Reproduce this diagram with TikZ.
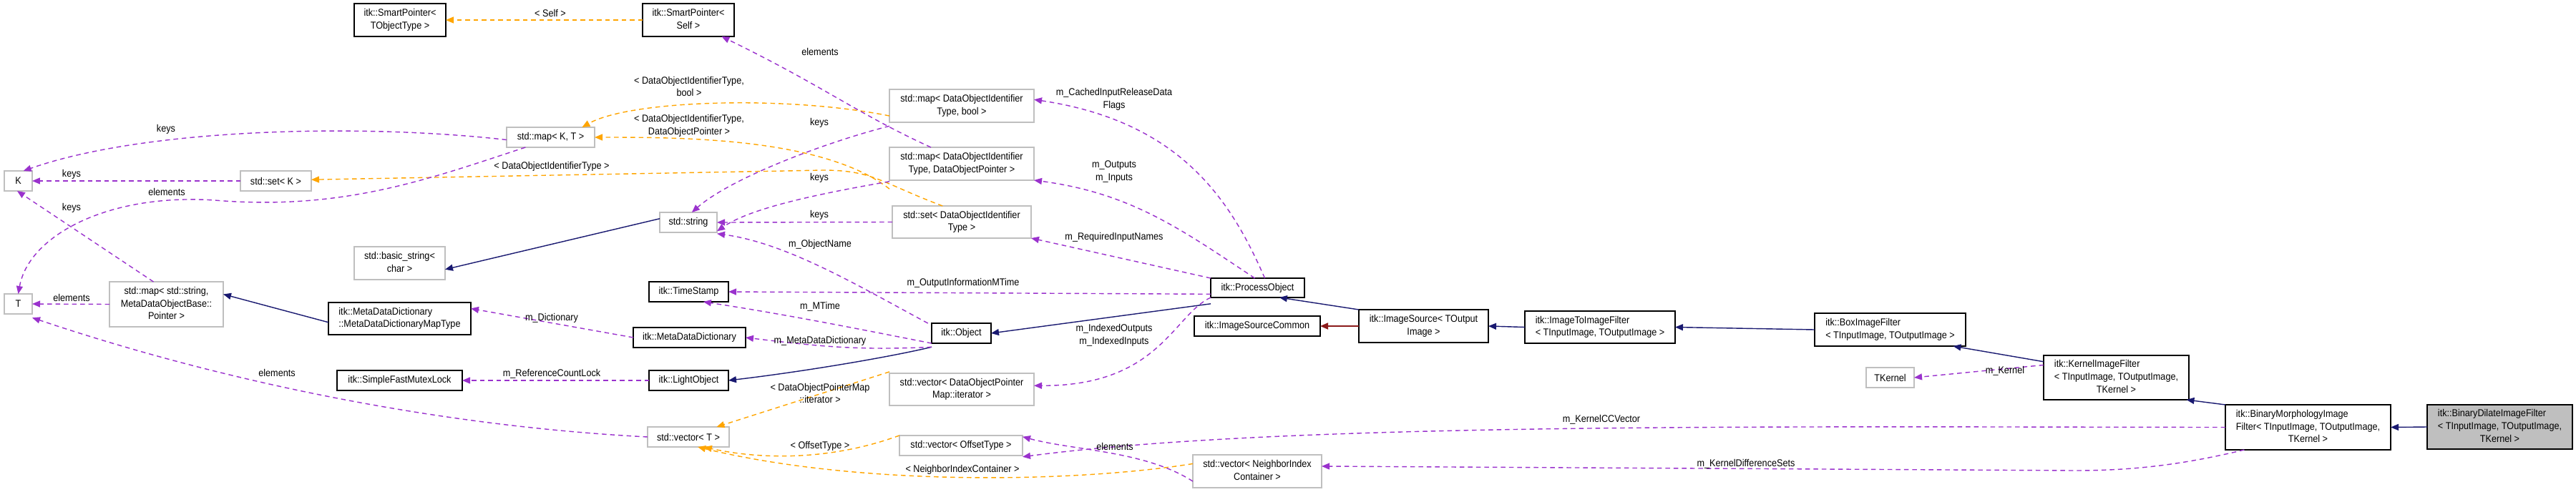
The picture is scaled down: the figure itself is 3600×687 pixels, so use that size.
\documentclass[tikz,border=0pt]{standalone}
\usepackage{fontspec}
\setmainfont{Liberation Sans}[FakeStretch=0.9]
\usetikzlibrary{arrows.meta}
\definecolor{navy}{HTML}{191970}
\definecolor{purp}{HTML}{9A32CD}
\definecolor{orng}{HTML}{FFA500}
\definecolor{dred}{HTML}{8B1A1A}
\definecolor{gbord}{HTML}{BFBFBF}
\newcommand\bx[7]{\node[#6, minimum width={(#4-#2)*0.02cm}, minimum height={(#5-#3)*0.02cm}] (#1) at ({(#2+#4)/2},{(#3+#5)/2}) {#7};}
\newcommand\lt[1]{\begin{tabular}{@{}l@{}}#1\end{tabular}}
\newcommand\ct[1]{\begin{tabular}{@{}c@{}}#1\end{tabular}}
\begin{document}
\begin{tikzpicture}[x=0.02cm,y=-0.02cm,
  font=\fontsize{8}{10}\selectfont,
  every node/.style={inner sep=0pt, outer sep=0pt},
  gb/.style={draw=gbord, line width=0.8pt, fill=white, rectangle},
  bb/.style={draw=black, line width=0.9pt, fill=white, rectangle},
  hb/.style={draw=black, line width=0.9pt, fill=gbord, rectangle},
  lbl/.style={font=\fontsize{8}{10}\selectfont, align=center},
  tip/.style={-{Triangle[length=0.22cm,width=0.18cm]}},
  inh/.style={tip, draw=navy, line width=0.8pt},
  red/.style={tip, draw=dred, line width=1pt},
  use/.style={tip, draw=purp, line width=0.8pt, dash pattern=on 0.13cm off 0.1cm},
  tpl/.style={tip, draw=orng, line width=0.8pt, dash pattern=on 0.13cm off 0.1cm}]
\useasboundingbox (0,0) rectangle (3600,687);
% boxes
\bx{spt}{495}{5}{623}{51}{bb}{\ct{itk::SmartPointer<\\TObjectType >}}
\bx{sps}{898}{5}{1026}{51}{bb}{\ct{itk::SmartPointer<\\Self >}}
\bx{mapkt}{708}{178}{831}{206}{gb}{std::map< K, T >}
\bx{K}{6}{239}{45}{267}{gb}{K}
\bx{setk}{336}{239}{435}{267}{gb}{std::set< K >}
\bx{bstr}{495}{345}{622}{391}{gb}{\ct{std::basic\_string<\\char >}}
\bx{T}{6}{411}{45}{439}{gb}{T}
\bx{mapstr}{153}{394}{312}{457}{gb}{\ct{std::map< std::string,\\MetaDataObjectBase::\\Pointer >}}
\bx{mdmt}{459}{423}{658}{468}{bb}{\lt{itk::MetaDataDictionary\\::MetaDataDictionaryMapType}}
\bx{sfml}{471}{518}{646}{546}{bb}{itk::SimpleFastMutexLock}
\bx{mapbool}{1243}{125}{1445}{171}{gb}{\ct{std::map< DataObjectIdentifier\\Type, bool >}}
\bx{mapdop}{1243}{206}{1445}{252}{gb}{\ct{std::map< DataObjectIdentifier\\Type, DataObjectPointer >}}
\bx{setdoit}{1247}{288}{1441}{333}{gb}{\ct{std::set< DataObjectIdentifier\\Type >}}
\bx{str}{922}{297}{1002}{325}{gb}{std::string}
\bx{ts}{907}{394}{1018}{422}{bb}{itk::TimeStamp}
\bx{mdd}{885}{458}{1042}{486}{bb}{itk::MetaDataDictionary}
\bx{lo}{907}{518}{1018}{546}{bb}{itk::LightObject}
\bx{obj}{1302}{452}{1385}{480}{bb}{itk::Object}
\bx{po}{1692}{389}{1823}{416}{bb}{itk::ProcessObject}
\bx{isc}{1669}{442}{1845}{470}{bb}{itk::ImageSourceCommon}
\bx{vdop}{1243}{522}{1445}{567}{gb}{\ct{std::vector< DataObjectPointer\\Map::iterator >}}
\bx{vt}{905}{597}{1019}{625}{gb}{std::vector< T >}
\bx{voff}{1257}{609}{1429}{637}{gb}{std::vector< OffsetType >}
\bx{vnic}{1667}{636}{1847}{682}{gb}{\ct{std::vector< NeighborIndex\\Container >}}
\bx{is}{1899}{433}{2080}{479}{bb}{\ct{itk::ImageSource< TOutput\\Image >}}
\bx{iti}{2131}{435}{2341}{480}{bb}{\lt{itk::ImageToImageFilter\\< TInputImage, TOutputImage >}}
\bx{box}{2536}{438}{2747}{484}{bb}{\lt{itk::BoxImageFilter\\< TInputImage, TOutputImage >}}
\bx{tk}{2608}{514}{2675}{542}{gb}{TKernel}
\bx{kif}{2856}{497}{3059}{559}{bb}{\lt{itk::KernelImageFilter\\< TInputImage, TOutputImage,\\\multicolumn{1}{@{}c@{}}{TKernel >}}}
\bx{bmf}{3110}{566}{3341}{629}{bb}{\lt{itk::BinaryMorphologyImage\\Filter< TInputImage, TOutputImage,\\\multicolumn{1}{@{}c@{}}{TKernel >}}}
\bx{bdf}{3392}{566}{3595}{628}{hb}{\lt{itk::BinaryDilateImageFilter\\< TInputImage, TOutputImage,\\\multicolumn{1}{@{}c@{}}{TKernel >}}}
% inheritance
\draw[inh] (bdf.west) -- (bmf.east);
\draw[inh] (bmf.north west) -- ([xshift=-2]kif.south east);
\draw[inh] ([yshift=-5]kif.north west) -- ([xshift=-10]box.south east);
\draw[inh] (box.west) -- (iti.east);
\draw[inh] (iti.west) -- (is.east);
\draw[inh] (is.north west) -- ([xshift=-20]po.south east);
\draw[red] (is.west) -- (isc.east);
\draw[inh] ([yshift=-5]po.south west) -- (obj.east);
\draw[inh] ([yshift=-3]obj.south west) .. controls (1240,500) and (1120,520) .. (lo.east);
\draw[inh] ([yshift=3]str.west) -- ([yshift=-5]bstr.east);
\draw[inh] ([yshift=-3]mdmt.west) -- ([yshift=8]mapstr.east);
% template instances
\draw[tpl] (sps.west) -- (spt.east);
\draw[tpl] ([yshift=-8]mapbool.west) .. controls (1100,133) and (880,140) .. ([xshift=-10]mapkt.north east);
\draw[tpl] ([yshift=-20]mapdop.west) .. controls (1150,192) and (950,192) .. (mapkt.east);
\draw[tpl] ([xshift=40]setdoit.north west) .. controls (1230,255) and (1220,238) .. (1150,238) -- ([yshift=1]setk.east);
\draw[tpl] ([yshift=14]vdop.west) -- ([xshift=-10]vt.north east);
\draw[tpl] ([yshift=8]voff.west) .. controls (1150,648) and (1050,640) .. ([xshift=-20]vt.south east);
\draw[tpl] ([yshift=6]vnic.west) .. controls (1500,675) and (1200,680) .. ([xshift=-25]vt.south east);
% usage
\draw[use] ([xshift=33]mapdop.north west) .. controls (1200,160) and (1150,120) .. ([xshift=-10]sps.south east);
\draw[use] ([yshift=-3]mapbool.south west) .. controls (1150,200) and (1020,250) .. ([xshift=-20]str.north east);
\draw[use] ([yshift=-1]mapdop.south west) .. controls (1150,270) and (1050,290) .. ([yshift=-7]str.east);
\draw[use] (setdoit.west) -- (str.east);
\draw[use] ([xshift=15]mapkt.south west) .. controls (600,250) and (480,295) .. (300,280) .. controls (150,270) and (40,330) .. (T.north);
\draw[use] ([yshift=-2]mapkt.west) .. controls (500,172) and (200,180) .. ([xshift=-7]K.north east);
\draw[use] (setk.west) -- (K.east);
\draw[use] ([xshift=35]mapstr.north west) -- ([xshift=-12]K.south east);
\draw[use] (mapstr.west) -- (T.east);
\draw[use] (vt.west) .. controls (600,595) and (300,530) .. ([yshift=-3]T.south east);
\draw[use] (mdd.west) -- ([yshift=8]mdmt.east);
\draw[use] (lo.west) -- (sfml.east);
\draw[use] ([xshift=-3]obj.north west) .. controls (1200,400) and (1100,340) .. ([yshift=-1]str.south east);
\draw[use] ([yshift=-8]obj.west) .. controls (1200,460) and (1100,440) .. ([xshift=-20]ts.south east);
\draw[use] ([yshift=-3]obj.south west) .. controls (1200,490) and (1150,485) .. (mdd.east);
\draw[use] ([yshift=-5]po.west) -- (ts.east);
\draw[use] ([xshift=43]po.north west) .. controls (1720,280) and (1650,170) .. ([yshift=5]mapbool.east);
\draw[use] ([xshift=35]po.north west) .. controls (1650,320) and (1580,270) .. (mapdop.south east);
\draw[use] (po.north west) -- (setdoit.south east);
\draw[use] (po.south west) .. controls (1640,440) and (1620,540) .. ([yshift=3]vdop.east);
\draw[use] ([yshift=10]kif.west) -- (tk.east);
\draw[use] (bmf.west) .. controls (2500,597) and (1800,590) .. ([yshift=-9]voff.east);
\draw[use] ([xshift=15]bmf.south west) .. controls (3050,650) and (2980,658) .. (2900,658) -- ([yshift=4]vnic.east);
\draw[use] ([yshift=-8]vnic.west) .. controls (1600,630) and (1500,630) .. ([yshift=7]voff.east);
% labels
\node[lbl] (l1) at (769,18) {< Self >};
\node[lbl] (l2) at (963,121) {< DataObjectIdentifierType,\\bool >};
\node[lbl] (l3) at (963,176) {< DataObjectIdentifierType,\\DataObjectPointer >};
\node[lbl] (l4) at (771,233) {< DataObjectIdentifierType >};
\node[lbl] (l5) at (1146,72) {elements};
\node[lbl] (l6) at (1145,172) {keys};
\node[lbl] (l7) at (1145,249) {keys};
\node[lbl] (l8) at (1145,301) {keys};
\node[lbl] (l9) at (232,181) {keys};
\node[lbl] (l10) at (100,244) {keys};
\node[lbl] (l11) at (233,268) {elements};
\node[lbl] (l12) at (100,291) {keys};
\node[lbl] (l13) at (100,416) {elements};
\node[lbl] (l14) at (387,521) {elements};
\node[lbl] (l15) at (771,445) {m\_Dictionary};
\node[lbl] (l16) at (771,523) {m\_ReferenceCountLock};
\node[lbl] (l17) at (1146,342) {m\_ObjectName};
\node[lbl] (l18) at (1346,396) {m\_OutputInformationMTime};
\node[lbl] (l19) at (1146,429) {m\_MTime};
\node[lbl] (l20) at (1146,477) {m\_MetaDataDictionary};
\node[lbl] (l21) at (1146,550) {< DataObjectPointerMap\\::iterator >};
\node[lbl] (l22) at (1146,624) {< OffsetType >};
\node[lbl] (l23) at (1345,657) {< NeighborIndexContainer >};
\node[lbl] (l24) at (1558,624) {elements};
\node[lbl] (l25) at (1557,139) {m\_CachedInputReleaseData\\Flags};
\node[lbl] (l26) at (1557,240) {m\_Outputs\\m\_Inputs};
\node[lbl] (l27) at (1557,332) {m\_RequiredInputNames};
\node[lbl] (l28) at (1557,469) {m\_IndexedOutputs\\m\_IndexedInputs};
\node[lbl] (l29) at (2238,587) {m\_KernelCCVector};
\node[lbl] (l30) at (2440,649) {m\_KernelDifferenceSets};
\node[lbl] (l31) at (2802,519) {m\_Kernel};
\end{tikzpicture}
\end{document}
